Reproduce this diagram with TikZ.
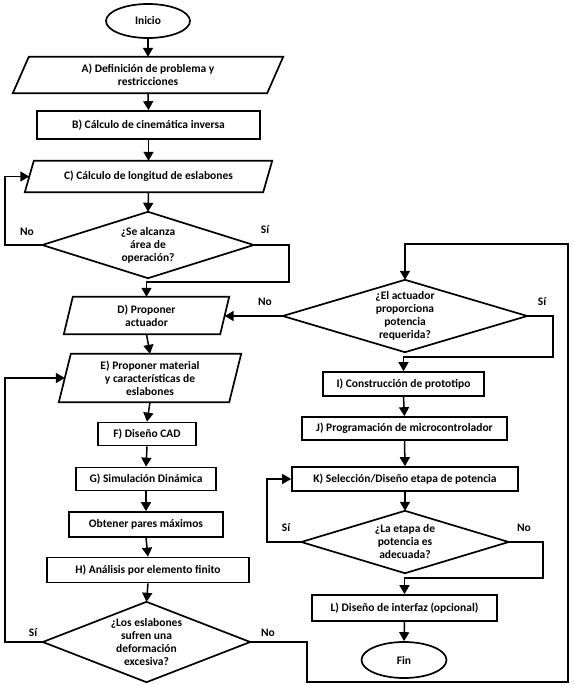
\documentclass[tikz,border=0pt]{standalone}
\usepackage{fontspec}
\setmainfont{Carlito}
\usetikzlibrary{arrows.meta,shapes.geometric}
\newcommand\drawpara[2]{\draw[shp] ([xshift=#2]#1.north west) -- (#1.north east) -- ([xshift=-#2]#1.south east) -- (#1.south west) -- cycle;}
\newcommand\drawdiam[1]{\draw[shp] (#1.north) -- (#1.east) -- (#1.south) -- (#1.west) -- cycle;}
\begin{document}
\begin{tikzpicture}[x=1pt,y=-1pt,
  every node/.style={font=\fontsize{11.5}{13}\selectfont\bfseries, align=center},
  box/.style={draw, line width=1.7pt, rectangle, inner sep=0pt},
  pbox/.style={rectangle, inner sep=0pt},
  dbox/.style={rectangle, inner sep=0pt},
  term/.style={draw, line width=1.7pt, ellipse, inner sep=0pt},
  shp/.style={line width=1.7pt, line join=miter},
  arr/.style={line width=1.5pt, -{Triangle[width=10pt,length=9pt]}},
  lnk/.style={line width=1.5pt},
  lbl/.style={inner sep=0pt}
]
\fill[white] (0,0) rectangle (573,685);
\useasboundingbox (0,0) rectangle (573,685);

% left column
\node[term, minimum width=84pt, minimum height=34pt] (ini) at (148,21) {Inicio};
\node[pbox, minimum width=270pt, minimum height=36pt] (A) at (148,75) {A) Definición de problema y\\restricciones};
\drawpara{A}{16}
\node[box, minimum width=223pt, minimum height=28pt] (B) at (148.5,125) {B) Cálculo de cinemática inversa};
\node[pbox, minimum width=247pt, minimum height=31pt] (C) at (148.5,176.5) {C) Cálculo de longitud de eslabones};
\drawpara{C}{9}
\node[dbox, minimum width=211pt, minimum height=66pt] (D1) at (148,245) {¿Se alcanza\\área de\\operación?};
\drawdiam{D1}
\node[pbox, minimum width=165pt, minimum height=37pt] (D) at (146.5,315.5) {D) Proponer\\actuador};
\drawpara{D}{9}
\node[pbox, minimum width=182pt, minimum height=48pt] (E) at (150,378) {E) Proponer material\\y características de\\eslabones};
\drawpara{E}{12}
\node[box, minimum width=98pt, minimum height=23pt] (F) at (147,434) {F) Diseño CAD};
\node[box, minimum width=140pt, minimum height=23pt] (G) at (146,479) {G) Simulación Dinámica};
\node[box, minimum width=154pt, minimum height=25pt] (O) at (146,524.5) {Obtener pares máximos};
\node[box, minimum width=202pt, minimum height=25pt] (H) at (148,570) {H) Análisis por elemento finito};
\node[dbox, minimum width=207pt, minimum height=80pt] (D4) at (146.5,642) {¿Los eslabones\\sufren una\\deformación\\excesiva?};
\drawdiam{D4}

% right column
\node[dbox, minimum width=244pt, minimum height=72pt] (D2) at (405,316) {¿El actuador\\proporciona\\potencia\\requerida?};
\drawdiam{D2}
\node[box, minimum width=161pt, minimum height=24pt] (I) at (403.5,384) {I) Construcción de prototipo};
\node[box, minimum width=205pt, minimum height=23pt] (J) at (404.5,428.5) {J) Programación de microcontrolador};
\node[box, minimum width=226pt, minimum height=24pt] (K) at (405,479) {K) Selección/Diseño etapa de potencia};
\node[dbox, minimum width=207pt, minimum height=62pt] (D3) at (405,542) {¿La etapa de\\potencia es\\adecuada?};
\drawdiam{D3}
\node[box, minimum width=185pt, minimum height=26pt] (L) at (404.5,608) {L) Diseño de interfaz (opcional)};
\node[term, minimum width=85pt, minimum height=36pt] (fin) at (404,660) {Fin};

% labels
\node[lbl] (l1) at (27,232) {No};
\node[lbl] (l2) at (265,230) {Sí};
\node[lbl] (l3) at (265,302) {No};
\node[lbl] (l4) at (542,302) {Sí};
\node[lbl] (l5) at (286,528) {Sí};
\node[lbl] (l6) at (524,528) {No};
\node[lbl] (l7) at (33,633) {Sí};
\node[lbl] (l8) at (268,633) {No};

% helper coordinates
\coordinate (xl) at (5,0);
\coordinate (xr1) at (289,0);
\coordinate (j1) at (148,282);
\coordinate (p1) at (307,682);
\coordinate (p2) at (568,682);
\coordinate (p3) at (568,244);
\coordinate (q1) at (553,357);
\coordinate (xk) at (267,0);
\coordinate (r1) at (543,578);
\coordinate (Cin) at ([xshift=4.5]C.west);
\coordinate (Ein) at ([xshift=6]E.west);
\coordinate (Din) at ([xshift=-4.5]D.east);

% connectors left column
\draw[arr] (ini.south) -- (A.north);
\draw[arr] (A.south) -- (B.north);
\draw[arr] (B.south) -- (C.north);
\draw[arr] (C.south) -- (D1.north);
\draw[arr] (D1.west) -- (D1.west -| xl) |- (Cin);
\draw[arr] (D1.east) -| (xr1 |- j1) -- (j1 -| D.north) -- (D.north);
\draw[arr] (D.south) -- (E.north);
\draw[arr] (E.south) -- (F.north);
\draw[arr] (F.south) -- (G.north);
\draw[arr] (G.south) -- (O.north);
\draw[arr] (O.south) -- (H.north);
\draw[arr] (H.south) -- (D4.north);
\draw[arr] (D4.west) -- (D4.west -| xl) |- (Ein);
\draw[arr] (D4.east) -| (p1) -- (p2) -- (p3) -- (p3 -| D2.north) -- (D2.north);

% connectors right column
\draw[arr] (D2.west) -- (D2.west -| Din);
\draw[arr] (D2.east) -| (q1) -- (q1 -| I.north) -- (I.north);
\draw[arr] (I.south) -- (J.north);
\draw[arr] (J.south) -- (K.north);
\draw[arr] (K.south) -- (D3.north);
\draw[arr] (D3.west) -- (D3.west -| xk) |- (K.west);
\draw[arr] (D3.east) -| (r1) -- (r1 -| L.north) -- (L.north);
\draw[arr] (L.south) -- (fin.north);
\end{tikzpicture}
\end{document}
